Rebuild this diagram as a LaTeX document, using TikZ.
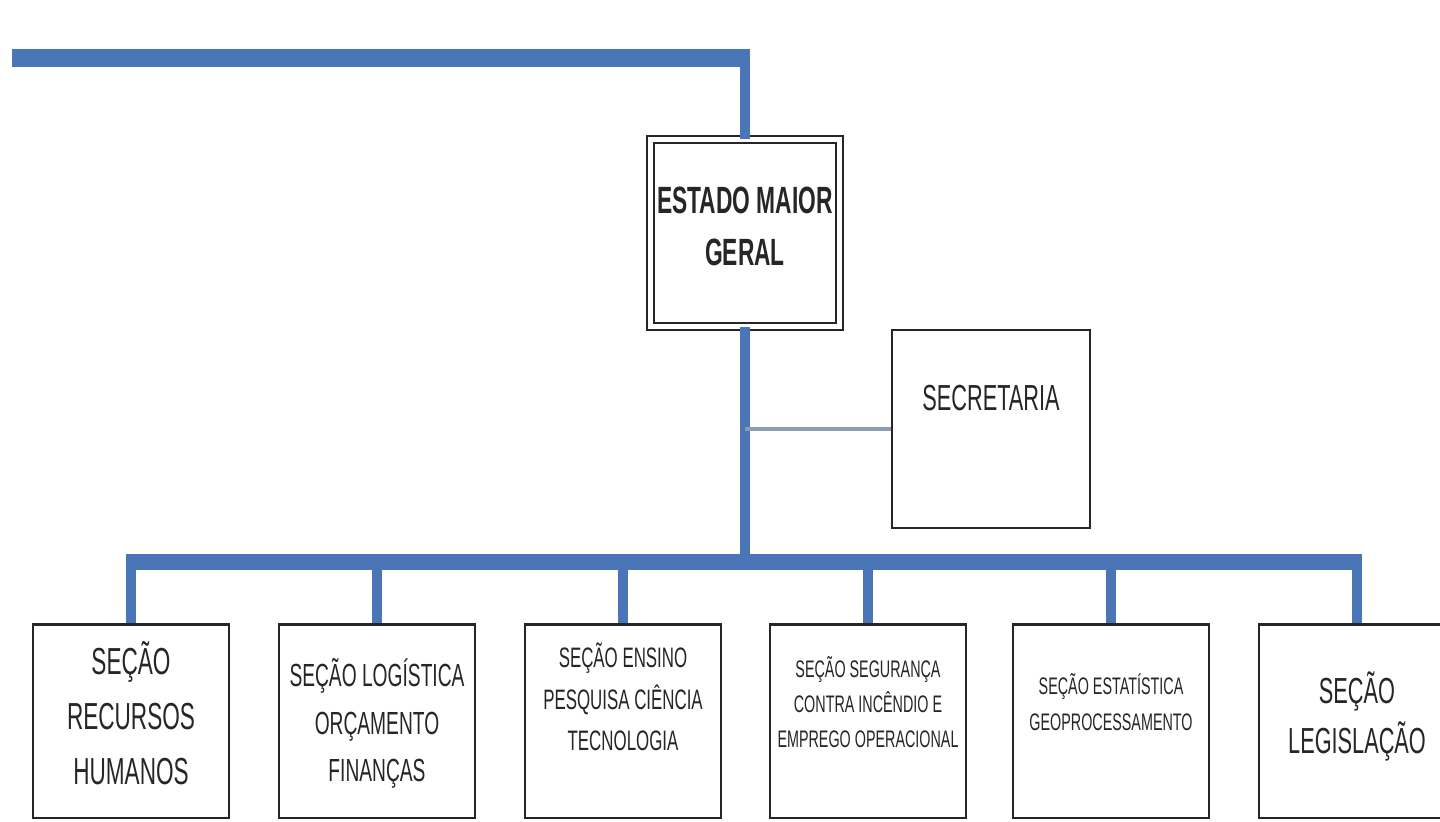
\documentclass[tikz,border=0pt]{standalone}
\usepackage{fontspec}
\setmainfont[FakeStretch=0.6]{Liberation Sans}
\usetikzlibrary{arrows.meta}
\definecolor{eblau}{HTML}{4A76B8}
\definecolor{egrau}{HTML}{8C9CB2}

\begin{document}
\begin{tikzpicture}[x=0.01cm, y=-0.01cm,
        box/.style={draw=black!85, line width=0.6pt, rectangle, inner sep=0pt, align=center, text=black!85, minimum width=1.96cm, minimum height=1.93cm},
        raise/.style={text height=0pt, text depth=#1},
        lower/.style={text height=#1, text depth=0pt},
        bus/.style={draw=eblau, line width=4.6pt},
        drop/.style={draw=eblau, line width=2.8pt},
        link/.style={draw=egrau, line width=0.9pt}]
        \useasboundingbox[fill=white] (0,0) rectangle (1440,821);

        \node[box, double, double distance=1.5pt, line width=0.5pt, minimum width=1.89cm, minimum height=1.87cm, lower=18.5pt, font=\bfseries\fontsize{10.8pt}{14.8pt}\selectfont] (EMG) at (745,233) {ESTADO MAIOR\\GERAL};

        \node[box, minimum width=1.98cm, minimum height=1.98cm, raise=10.8pt, font=\fontsize{10.3pt}{12pt}\selectfont] (SEC) at (991,429) {SECRETARIA};

        \node[box, lower=36.2pt, font=\fontsize{10.7pt}{15.6pt}\selectfont] (RH) at (131,721) {SEÇÃO\\RECURSOS\\HUMANOS};

        \node[box, lower=34.2pt, font=\fontsize{9.1pt}{13.4pt}\selectfont] (LOF) at (377,721) {SEÇÃO LOGÍSTICA\\ORÇAMENTO\\FINANÇAS};

        \node[box, lower=16.6pt, font=\fontsize{8pt}{11.7pt}\selectfont] (EPCT) at (623,721) {SEÇÃO ENSINO\\PESQUISA CIÊNCIA\\TECNOLOGIA};

        \node[box, lower=15pt, font=\fontsize{6.8pt}{10pt}\selectfont] (SCI) at (868,721) {SEÇÃO SEGURANÇA\\CONTRA INCÊNDIO E\\EMPREGO OPERACIONAL};

        \node[box, lower=5.2pt, font=\fontsize{6.8pt}{10pt}\selectfont] (EG) at (1111,721) {SEÇÃO ESTATÍSTICA\\GEOPROCESSAMENTO};

        \node[box, lower=18.2pt, font=\fontsize{10.3pt}{14.2pt}\selectfont] (LEG) at (1357,721) {SEÇÃO\\LEGISLAÇÃO};

        \coordinate (TOP) at (12,58);
        \coordinate (CORNER) at (750,58);
        \coordinate (BUS) at (745,562);

        \draw[bus, line width=5.4pt] (TOP) -- (CORNER);
        \draw[drop] (EMG.north |- CORNER) -- (EMG.north);
        \draw[drop] (EMG.south) -- (BUS);
        \draw[link] (SEC.west) -- (SEC.west -| EMG.south);
        \draw[bus, shorten <=-1.4pt, shorten >=-1.4pt] (RH.north |- BUS) -- (LEG.north |- BUS);
        \foreach \sec in {RH,LOF,EPCT,SCI,EG,LEG}
            \draw[drop] (\sec.north |- BUS) -- (\sec.north);

    \end{tikzpicture}
\end{document}
